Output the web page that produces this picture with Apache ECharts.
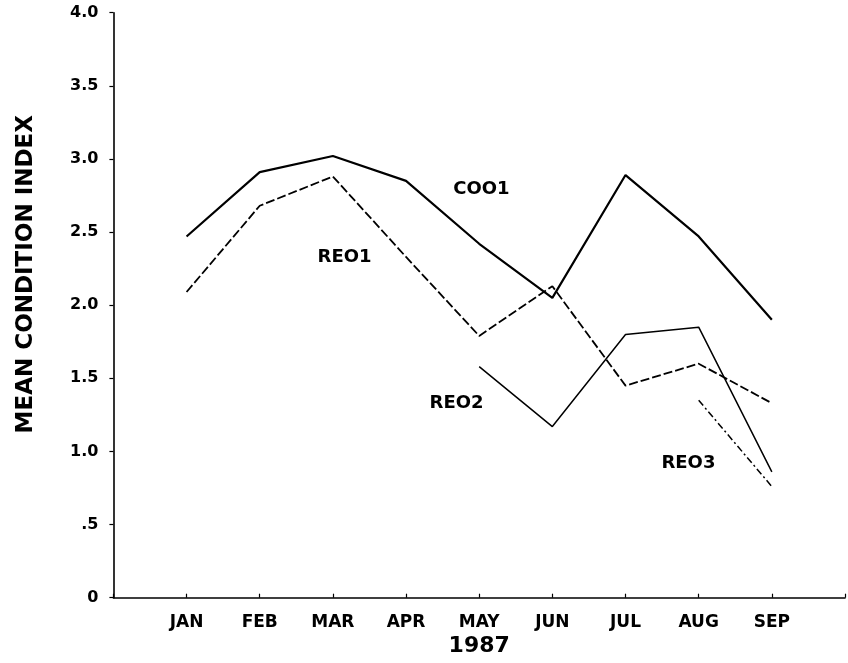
<!DOCTYPE html>
<html>
<head>
<meta charset="utf-8">
<script src="https://cdn.jsdelivr.net/npm/echarts@6/dist/echarts.min.js"></script>
<style>
html,body{margin:0;padding:0;background:#fff;}
#chart{width:848px;height:663px;}
</style>
</head>
<body>
<div id="chart"></div>
<script>
// ---- data ----
const months = ['JAN','FEB','MAR','APR','MAY','JUN','JUL','AUG','SEP'];
const coo1 = [2.47, 2.91, 3.02, 2.85, 2.42, 2.05, 2.89, 2.47, 1.90];
const reo1 = [2.09, 2.68, 2.88, 2.33, 1.79, 2.13, 1.45, 1.60, 1.33];
const reo2 = [null, null, null, null, 1.58, 1.17, 1.80, 1.85, 0.86];
const reo3 = [null, null, null, null, null, null, null, 1.35, 0.76];
const yTickLabels = ['0', '.5', '1.0', '1.5', '2.0', '2.5', '3.0', '3.5', '4.0'];
const seriesNames = ['COO1', 'REO1', 'REO2', 'REO3'];
// label anchor positions in data units [month position, index value]
const labelPos = [[5.03, 2.79], [3.16, 2.33], [4.69, 1.33], [7.86, 0.92]];
const yearLabel = '1987';
const yTitle = 'MEAN CONDITION INDEX';

const FONT = 'DejaVu Sans';
function pairs(arr){ return arr.map((v,i)=>[i+1, v]); }

const lineDefs = [
  {data: coo1, width: 2.2, type: 'solid'},
  {data: reo1, width: 1.8, type: [9, 3]},
  {data: reo2, width: 1.5, type: 'solid'},
  {data: reo3, width: 1.5, type: [7, 3, 2, 3]}
];

const series = lineDefs.map((d, k) => ({
  name: seriesNames[k],
  type: 'line',
  data: pairs(d.data),
  showSymbol: false,
  symbol: 'none',
  connectNulls: false,
  animation: false,
  lineStyle: {color: '#000', width: d.width, type: d.type},
  markPoint: {
    symbol: 'circle', symbolSize: 0, animation: false,
    label: {show: true, position: 'inside', formatter: seriesNames[k],
      fontFamily: FONT, fontWeight: 'bold', fontSize: 18, color: '#000'},
    data: [{coord: labelPos[k], value: seriesNames[k]}]
  }
}));

const chart = echarts.init(document.getElementById('chart'), null, {renderer: 'canvas'});
chart.setOption({
  backgroundColor: '#fff',
  animation: false,
  grid: {left: 113.4, right: -4, top: 12.7, bottom: 65.3, containLabel: false},
  xAxis: {
    type: 'value', min: 0, max: 10, interval: 1,
    name: yearLabel, nameLocation: 'middle', nameGap: 37,
    nameTextStyle: {fontFamily: FONT, fontWeight: 'bold', fontSize: 22, color: '#000'},
    axisLine: {show: true, lineStyle: {color: '#000', width: 1.6}},
    axisTick: {show: true, length: 4, inside: true, lineStyle: {color: '#000', width: 1.2}},
    axisLabel: {
      margin: 16, fontFamily: FONT, fontWeight: 'bold', fontSize: 17, color: '#000',
      formatter: v => (v >= 1 && v <= months.length) ? months[v-1] : ''
    },
    splitLine: {show: false}
  },
  yAxis: {
    type: 'value', min: 0, max: 4, interval: 0.5,
    name: yTitle, nameLocation: 'middle', nameGap: 76, nameRotate: 90,
    nameTextStyle: {fontFamily: FONT, fontWeight: 'bold', fontSize: 23, color: '#000', padding: [0, 0, 0, 62]},
    axisLine: {show: true, lineStyle: {color: '#000', width: 1.6}},
    axisTick: {show: true, length: 4, lineStyle: {color: '#000', width: 1.2}},
    axisLabel: {
      margin: 15, fontFamily: FONT, fontWeight: 'bold', fontSize: 16, color: '#000',
      formatter: v => yTickLabels[Math.round(v*2)]
    },
    splitLine: {show: false}
  },
  series: series
});
</script>
</body>
</html>
